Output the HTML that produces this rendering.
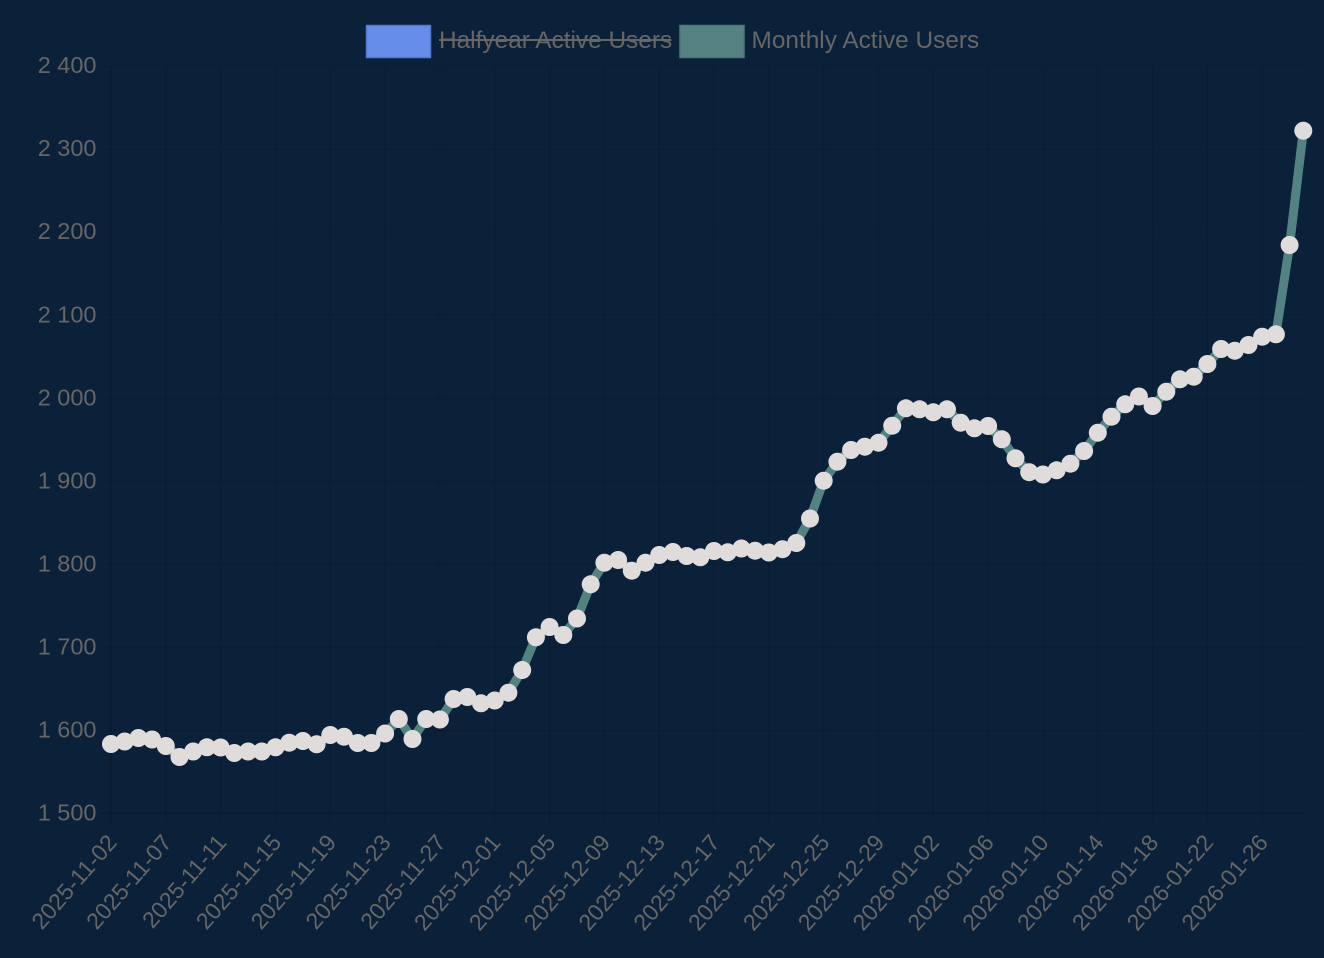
<!DOCTYPE html>
<html>
<head>
<meta charset="utf-8">
<style>
  html, body { margin:0; padding:0; background:#0b2039; }
  body { width:1324px; height:958px; overflow:hidden; }
  svg { display:block; }
  text { font-family: "Liberation Sans", "DejaVu Sans", sans-serif; fill:#666; }
</style>
</head>
<body>
<svg width="1324" height="958" viewBox="0 0 1324 958" xmlns="http://www.w3.org/2000/svg">
  <rect x="0" y="0" width="1324" height="958" fill="#0b2039"/>

  <!-- horizontal gridlines -->
  <g stroke="#000000" stroke-opacity="0.1" stroke-width="1">
    <line x1="101" y1="813.3" x2="1304" y2="813.3" stroke-opacity="0.22" stroke-width="1.3"/>
    <line x1="101" y1="730.3" x2="1304" y2="730.3"/>
    <line x1="101" y1="647.2" x2="1304" y2="647.2"/>
    <line x1="101" y1="564.2" x2="1304" y2="564.2"/>
    <line x1="101" y1="481.1" x2="1304" y2="481.1"/>
    <line x1="101" y1="398.1" x2="1304" y2="398.1"/>
    <line x1="101" y1="315.1" x2="1304" y2="315.1"/>
    <line x1="101" y1="232.0" x2="1304" y2="232.0"/>
    <line x1="101" y1="149.0" x2="1304" y2="149.0"/>
    <line x1="101" y1="66.0" x2="1304" y2="66.0"/>
  </g>
  <!-- vertical gridlines -->
  <g stroke="#000000" stroke-opacity="0.1" stroke-width="1">
    <line x1="111" y1="66" x2="111" y2="823" stroke-opacity="0.22" stroke-width="1.3"/>
    <line x1="165.8" y1="66" x2="165.8" y2="823"/>
    <line x1="220.6" y1="66" x2="220.6" y2="823"/>
    <line x1="275.5" y1="66" x2="275.5" y2="823"/>
    <line x1="330.3" y1="66" x2="330.3" y2="823"/>
    <line x1="385.1" y1="66" x2="385.1" y2="823"/>
    <line x1="439.9" y1="66" x2="439.9" y2="823"/>
    <line x1="494.7" y1="66" x2="494.7" y2="823"/>
    <line x1="549.6" y1="66" x2="549.6" y2="823"/>
    <line x1="604.4" y1="66" x2="604.4" y2="823"/>
    <line x1="659.2" y1="66" x2="659.2" y2="823"/>
    <line x1="714.0" y1="66" x2="714.0" y2="823"/>
    <line x1="768.8" y1="66" x2="768.8" y2="823"/>
    <line x1="823.7" y1="66" x2="823.7" y2="823"/>
    <line x1="878.5" y1="66" x2="878.5" y2="823"/>
    <line x1="933.3" y1="66" x2="933.3" y2="823"/>
    <line x1="988.1" y1="66" x2="988.1" y2="823"/>
    <line x1="1042.9" y1="66" x2="1042.9" y2="823"/>
    <line x1="1097.8" y1="66" x2="1097.8" y2="823"/>
    <line x1="1152.6" y1="66" x2="1152.6" y2="823"/>
    <line x1="1207.4" y1="66" x2="1207.4" y2="823"/>
    <line x1="1262.2" y1="66" x2="1262.2" y2="823"/>
  </g>

  <!-- y tick labels -->
  <g font-size="23.5" text-anchor="end" dominant-baseline="central">
    <text x="96.5" y="812.5">1 500</text>
    <text x="96.5" y="729.5">1 600</text>
    <text x="96.5" y="646.4">1 700</text>
    <text x="96.5" y="563.4">1 800</text>
    <text x="96.5" y="480.3">1 900</text>
    <text x="96.5" y="397.3">2 000</text>
    <text x="96.5" y="314.3">2 100</text>
    <text x="96.5" y="231.2">2 200</text>
    <text x="96.5" y="148.2">2 300</text>
    <text x="96.5" y="65.2">2 400</text>
  </g>

  <!-- x tick labels -->
  <g font-size="23" text-anchor="end" dominant-baseline="central">
    <text transform="translate(112,838) rotate(-49)">2025-11-02</text>
    <text transform="translate(166.8,838) rotate(-49)">2025-11-07</text>
    <text transform="translate(221.6,838) rotate(-49)">2025-11-11</text>
    <text transform="translate(276.5,838) rotate(-49)">2025-11-15</text>
    <text transform="translate(331.3,838) rotate(-49)">2025-11-19</text>
    <text transform="translate(386.1,838) rotate(-49)">2025-11-23</text>
    <text transform="translate(440.9,838) rotate(-49)">2025-11-27</text>
    <text transform="translate(495.7,838) rotate(-49)">2025-12-01</text>
    <text transform="translate(550.6,838) rotate(-49)">2025-12-05</text>
    <text transform="translate(605.4,838) rotate(-49)">2025-12-09</text>
    <text transform="translate(660.2,838) rotate(-49)">2025-12-13</text>
    <text transform="translate(715.0,838) rotate(-49)">2025-12-17</text>
    <text transform="translate(769.8,838) rotate(-49)">2025-12-21</text>
    <text transform="translate(824.7,838) rotate(-49)">2025-12-25</text>
    <text transform="translate(879.5,838) rotate(-49)">2025-12-29</text>
    <text transform="translate(934.3,838) rotate(-49)">2026-01-02</text>
    <text transform="translate(989.1,838) rotate(-49)">2026-01-06</text>
    <text transform="translate(1043.9,838) rotate(-49)">2026-01-10</text>
    <text transform="translate(1098.8,838) rotate(-49)">2026-01-14</text>
    <text transform="translate(1153.6,838) rotate(-49)">2026-01-18</text>
    <text transform="translate(1208.4,838) rotate(-49)">2026-01-22</text>
    <text transform="translate(1263.2,838) rotate(-49)">2026-01-26</text>
  </g>

  <!-- series line -->
  <polyline fill="none" stroke="#538381" stroke-width="9" stroke-linejoin="round" stroke-linecap="round"
    points="111.0,744 124.7,741.5 138.4,738 152.1,739.5 165.8,746 179.5,757 193.2,751.5 206.9,747.3 220.6,747.5 234.3,753 248.1,751.5 261.8,751.5 275.5,747.3 289.2,742.7 302.9,741 316.6,744.3 330.3,735 344.0,736.7 357.7,743 371.4,743 385.1,733.5 398.8,719 412.5,739 426.2,719 439.9,719.5 453.6,699 467.3,697 481.0,703.3 494.7,700.5 508.4,692.7 522.2,670 535.9,637.3 549.6,627 563.3,635 577.0,618.5 590.7,584.3 604.4,562.7 618.1,560 631.8,570.7 645.5,562.7 659.2,555 672.9,552 686.6,556 700.3,557.3 714.0,551 727.7,552.3 741.4,548.5 755.1,550.7 768.8,552.5 782.5,549.2 796.3,543 810.0,518.5 823.7,480.7 837.4,461.7 851.1,450 864.8,446.7 878.5,442.7 892.2,425.7 905.9,408.3 919.6,409.3 933.3,412.3 947.0,409.3 960.7,422.7 974.4,428.3 988.1,426 1001.8,439.3 1015.5,458.3 1029.2,472.2 1042.9,474.5 1056.6,470.3 1070.4,463.7 1084.1,451 1097.8,432.7 1111.5,416.7 1125.2,404.3 1138.9,396.5 1152.6,406 1166.3,391.7 1180.0,379.3 1193.7,376.7 1207.4,364 1221.1,349 1234.8,350.7 1248.5,345 1262.2,336.7 1275.9,334.3 1289.6,245 1303.3,130.7"/>

  <!-- points -->
  <g fill="#e0dcdc">
    <circle cx="111.0" cy="744" r="9"/><circle cx="124.7" cy="741.5" r="9"/><circle cx="138.4" cy="738" r="9"/><circle cx="152.1" cy="739.5" r="9"/>
    <circle cx="165.8" cy="746" r="9"/><circle cx="179.5" cy="757" r="9"/><circle cx="193.2" cy="751.5" r="9"/><circle cx="206.9" cy="747.3" r="9"/>
    <circle cx="220.6" cy="747.5" r="9"/><circle cx="234.3" cy="753" r="9"/><circle cx="248.1" cy="751.5" r="9"/><circle cx="261.8" cy="751.5" r="9"/>
    <circle cx="275.5" cy="747.3" r="9"/><circle cx="289.2" cy="742.7" r="9"/><circle cx="302.9" cy="741" r="9"/><circle cx="316.6" cy="744.3" r="9"/>
    <circle cx="330.3" cy="735" r="9"/><circle cx="344.0" cy="736.7" r="9"/><circle cx="357.7" cy="743" r="9"/><circle cx="371.4" cy="743" r="9"/>
    <circle cx="385.1" cy="733.5" r="9"/><circle cx="398.8" cy="719" r="9"/><circle cx="412.5" cy="739" r="9"/><circle cx="426.2" cy="719" r="9"/>
    <circle cx="439.9" cy="719.5" r="9"/><circle cx="453.6" cy="699" r="9"/><circle cx="467.3" cy="697" r="9"/><circle cx="481.0" cy="703.3" r="9"/>
    <circle cx="494.7" cy="700.5" r="9"/><circle cx="508.4" cy="692.7" r="9"/><circle cx="522.2" cy="670" r="9"/><circle cx="535.9" cy="637.3" r="9"/>
    <circle cx="549.6" cy="627" r="9"/><circle cx="563.3" cy="635" r="9"/><circle cx="577.0" cy="618.5" r="9"/><circle cx="590.7" cy="584.3" r="9"/>
    <circle cx="604.4" cy="562.7" r="9"/><circle cx="618.1" cy="560" r="9"/><circle cx="631.8" cy="570.7" r="9"/><circle cx="645.5" cy="562.7" r="9"/>
    <circle cx="659.2" cy="555" r="9"/><circle cx="672.9" cy="552" r="9"/><circle cx="686.6" cy="556" r="9"/><circle cx="700.3" cy="557.3" r="9"/>
    <circle cx="714.0" cy="551" r="9"/><circle cx="727.7" cy="552.3" r="9"/><circle cx="741.4" cy="548.5" r="9"/><circle cx="755.1" cy="550.7" r="9"/>
    <circle cx="768.8" cy="552.5" r="9"/><circle cx="782.5" cy="549.2" r="9"/><circle cx="796.3" cy="543" r="9"/><circle cx="810.0" cy="518.5" r="9"/>
    <circle cx="823.7" cy="480.7" r="9"/><circle cx="837.4" cy="461.7" r="9"/><circle cx="851.1" cy="450" r="9"/><circle cx="864.8" cy="446.7" r="9"/>
    <circle cx="878.5" cy="442.7" r="9"/><circle cx="892.2" cy="425.7" r="9"/><circle cx="905.9" cy="408.3" r="9"/><circle cx="919.6" cy="409.3" r="9"/>
    <circle cx="933.3" cy="412.3" r="9"/><circle cx="947.0" cy="409.3" r="9"/><circle cx="960.7" cy="422.7" r="9"/><circle cx="974.4" cy="428.3" r="9"/>
    <circle cx="988.1" cy="426" r="9"/><circle cx="1001.8" cy="439.3" r="9"/><circle cx="1015.5" cy="458.3" r="9"/><circle cx="1029.2" cy="472.2" r="9"/>
    <circle cx="1042.9" cy="474.5" r="9"/><circle cx="1056.6" cy="470.3" r="9"/><circle cx="1070.4" cy="463.7" r="9"/><circle cx="1084.1" cy="451" r="9"/>
    <circle cx="1097.8" cy="432.7" r="9"/><circle cx="1111.5" cy="416.7" r="9"/><circle cx="1125.2" cy="404.3" r="9"/><circle cx="1138.9" cy="396.5" r="9"/>
    <circle cx="1152.6" cy="406" r="9"/><circle cx="1166.3" cy="391.7" r="9"/><circle cx="1180.0" cy="379.3" r="9"/><circle cx="1193.7" cy="376.7" r="9"/>
    <circle cx="1207.4" cy="364" r="9"/><circle cx="1221.1" cy="349" r="9"/><circle cx="1234.8" cy="350.7" r="9"/><circle cx="1248.5" cy="345" r="9"/>
    <circle cx="1262.2" cy="336.7" r="9"/><circle cx="1275.9" cy="334.3" r="9"/><circle cx="1289.6" cy="245" r="9"/><circle cx="1303.3" cy="130.7" r="9"/>
  </g>

  <!-- legend -->
  <rect x="366.5" y="25.5" width="64" height="32" fill="#668de8" stroke="#5478d4" stroke-width="1.5"/>
  <text x="439" y="40.5" font-size="24.4" dominant-baseline="central">Halfyear Active Users</text>
  <line x1="439" y1="40" x2="671.5" y2="40" stroke="#666" stroke-width="2"/>
  <rect x="680" y="25.5" width="64" height="32" fill="#548382" stroke="#4c7a79" stroke-width="1.5"/>
  <text x="751.5" y="40.5" font-size="24.4" dominant-baseline="central">Monthly Active Users</text>
</svg>
</body>
</html>
